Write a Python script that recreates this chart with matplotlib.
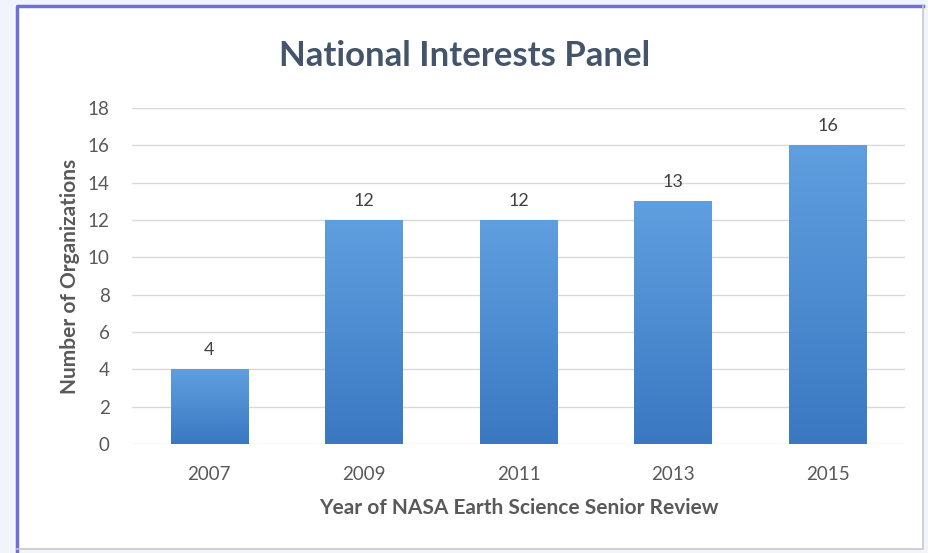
import numpy as np
from matplotlib import pyplot as plt
from matplotlib.colors import LinearSegmentedColormap
from matplotlib.patches import Rectangle
from matplotlib.lines import Line2D

years = ['2007', '2009', '2011', '2013', '2015']
orgs = [4, 12, 12, 13, 16]
yticks = [0, 2, 4, 6, 8, 10, 12, 14, 16, 18]

plt.rcParams['font.family'] = ['Lato', 'DejaVu Sans']

fig = plt.figure(figsize=(9.29, 5.53), dpi=100, facecolor='#f2f4fb')

# white chart box with the frame
fig.patches.append(Rectangle((17 / 929, 1 - 549 / 553), 906 / 929, 543 / 553,
                             transform=fig.transFigure, facecolor='white',
                             edgecolor='none', zorder=-5))
fig.lines.append(Line2D([17 / 929, 17 / 929, 923 / 929], [1 - 552 / 553, 1 - 6 / 553, 1 - 6 / 553],
                        transform=fig.transFigure, color='#6f6fd6', lw=2.5, zorder=-4))
fig.lines.append(Line2D([923 / 929, 923 / 929, 17 / 929], [1 - 6 / 553, 1 - 549 / 553, 1 - 549 / 553],
                        transform=fig.transFigure, color='#c8c8c8', lw=1.2, zorder=-4))

ax = fig.add_axes([132 / 929, 1 - 444 / 553, 773 / 929, 336 / 553])
ax.set_facecolor('none')

x = np.arange(len(years))
bars = ax.bar(x, orgs, width=0.5, color='#4a8ad0', zorder=3)

# gradient inside the bars
cmap = LinearSegmentedColormap.from_list('g', ['#3a79c2', '#5f9fdf'])
grad = np.linspace(0, 1, 256).reshape(-1, 1)
for b in bars:
    im = ax.imshow(grad, cmap=cmap, aspect='auto', origin='lower',
                   extent=[b.get_x(), b.get_x() + b.get_width(), 0, b.get_height()], zorder=4)
    im.set_clip_path(b)

for xi, v in zip(x, orgs):
    ax.text(xi, v + 0.6, str(v), ha='center', va='bottom', fontsize=13, color='#404040')

ax.set_xlim(-0.5, len(years) - 0.5)
ax.set_ylim(0, 18)
ax.set_yticks(yticks)
ax.set_xticks(x)
ax.set_xticklabels(years)
ax.grid(axis='y', color='#d9d9d9', lw=1, zorder=0)
for s in ax.spines.values():
    s.set_visible(False)
ax.tick_params(length=0, labelsize=13.5, labelcolor='#595959')
ax.tick_params(axis='x', pad=16)
ax.tick_params(axis='y', pad=16)

ax.set_xlabel('Year of NASA Earth Science Senior Review', fontsize=15, fontweight='bold',
              color='#595959', labelpad=11)
ax.set_ylabel('Number of Organizations', fontsize=15, fontweight='bold',
              color='#595959', labelpad=6)

fig.text(465 / 929, 1 - 56 / 553, 'National Interests Panel', ha='center', va='center',
         fontsize=25, fontweight='bold', color='#44546a')

fig.savefig('out.png', dpi=100, facecolor=fig.get_facecolor())
